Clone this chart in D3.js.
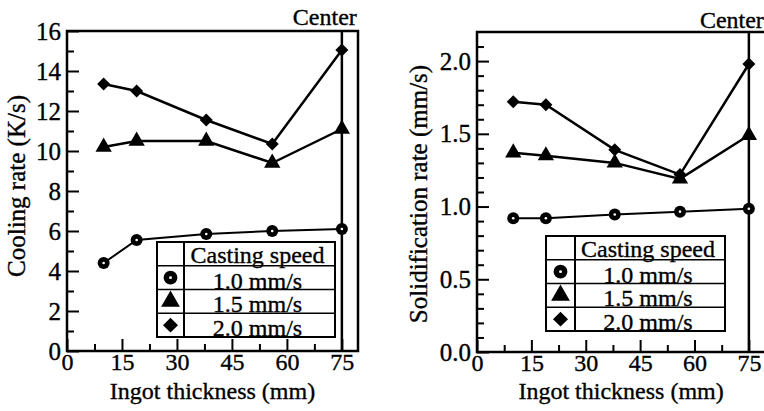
<!DOCTYPE html>
<html>
<head>
<meta charset="utf-8">
<script src="https://cdn.jsdelivr.net/npm/d3@7"></script>
<style>
  body { margin: 0; background: #fff; }
  svg text { font-family: "Liberation Serif", "Times New Roman", serif; fill: #000; stroke: #000; stroke-width: 0.35px; }
</style>
</head>
<body>
<svg id="chart" width="764" height="411"></svg>
<script>
// ingot thickness positions (mm)
const thickness = [10, 19, 38, 56, 75];

// cooling rate (K/s) per casting speed
const coolRate10 = [4.4, 5.55, 5.85, 6.0, 6.1];
const coolRate15 = [10.2, 10.5, 10.5, 9.4, 11.1];
const coolRate20 = [13.35, 13.0, 11.55, 10.35, 15.05];

// solidification rate (mm/s) per casting speed
const solidRate10 = [0.92, 0.92, 0.945, 0.965, 0.985];
const solidRate15 = [1.37, 1.35, 1.30, 1.19, 1.49];
const solidRate20 = [1.72, 1.70, 1.39, 1.22, 1.98];

const speedLabels = ["1.0 mm/s", "1.5 mm/s", "2.0 mm/s"];
const markerTypes = ["circle", "triangle", "diamond"];
const legendTitle = "Casting speed";
const centerLabel = "Center";
const xTicks = [0, 15, 30, 45, 60, 75];
const xMinorTicks = [7.5, 22.5, 37.5, 52.5, 67.5];

const svg = d3.select("#chart");

function drawMarker(g, type, cx, cy, big) {
  const k = big ? 1.15 : 1;
  if (type === "circle") {
    g.append("circle").attr("cx", cx).attr("cy", cy).attr("r", 6 * k).attr("fill", "#000");
    g.append("circle").attr("cx", cx).attr("cy", cy).attr("r", 1.3 * k).attr("fill", "#fff");
  } else if (type === "triangle") {
    g.append("path")
      .attr("d", d3.symbol(d3.symbolTriangle, 115 * k * k)())
      .attr("transform", `translate(${cx},${cy})`)
      .attr("fill", "#000");
  } else {
    g.append("path")
      .attr("d", d3.symbol(d3.symbolSquare, 85 * k * k)())
      .attr("transform", `translate(${cx},${cy}) rotate(45)`)
      .attr("fill", "#000");
  }
}

function drawPanel(cfg) {
  const g = svg.append("g");
  const x = d3.scaleLinear().domain(cfg.xDomain).range(cfg.xRange);
  const y = d3.scaleLinear().domain(cfg.yDomain).range(cfg.yRange);
  const [x0, x1] = cfg.xRange;
  const [yb, yt] = cfg.yRange;

  // x axis ticks (pointing inward)
  g.append("g")
    .attr("transform", `translate(0,${yb})`)
    .call(d3.axisBottom(x).tickValues(xTicks).tickSize(-12).tickPadding(2).tickFormat(d3.format("d")))
    .call(a => a.select(".domain").remove())
    .call(a => a.selectAll("line").attr("stroke-width", 2))
    .call(a => a.selectAll("text").attr("font-size", 24));
  g.append("g")
    .attr("transform", `translate(0,${yb})`)
    .call(d3.axisBottom(x).tickValues(xMinorTicks).tickSize(-7).tickFormat(""))
    .call(a => a.select(".domain").remove())
    .call(a => a.selectAll("line").attr("stroke-width", 2));

  // y axis ticks
  g.append("g")
    .attr("transform", `translate(${x0},0)`)
    .call(d3.axisLeft(y).tickValues(cfg.yTicks).tickSize(-12).tickPadding(6).tickFormat(cfg.yFormat))
    .call(a => a.select(".domain").remove())
    .call(a => a.selectAll("line").attr("stroke-width", 2))
    .call(a => a.selectAll("text").attr("font-size", 25));
  g.append("g")
    .attr("transform", `translate(${x0},0)`)
    .call(d3.axisLeft(y).tickValues(cfg.yMinor).tickSize(-7).tickFormat(""))
    .call(a => a.select(".domain").remove())
    .call(a => a.selectAll("line").attr("stroke-width", 2));

  // frame
  g.append("rect")
    .attr("x", x0).attr("y", yt)
    .attr("width", x1 - x0).attr("height", yb - yt)
    .attr("fill", "none").attr("stroke", "#000").attr("stroke-width", 2.5);

  // center line
  g.append("line")
    .attr("x1", x(75)).attr("x2", x(75))
    .attr("y1", yt).attr("y2", yb)
    .attr("stroke", "#000").attr("stroke-width", 2.5);

  g.append("text")
    .attr("x", x(75) - 49).attr("y", cfg.centerY)
    .attr("font-size", 24)
    .text(centerLabel);

  // series
  const line = d3.line().x((d, i) => x(thickness[i])).y(d => y(d));
  cfg.series.forEach((vals, si) => {
    g.append("path")
      .datum(vals)
      .attr("d", line)
      .attr("fill", "none")
      .attr("stroke", "#000")
      .attr("stroke-width", si === 0 ? 2 : 2.5);
    vals.forEach((v, i) => drawMarker(g, markerTypes[si], x(thickness[i]), y(v), false));
  });

  // legend table
  const lg = cfg.legend;
  const rowH = (lg.y1 - lg.y0) / 4;
  const lt = g.append("g");
  lt.append("rect")
    .attr("x", lg.x0).attr("y", lg.y0)
    .attr("width", lg.x1 - lg.x0).attr("height", lg.y1 - lg.y0)
    .attr("fill", "#fff").attr("stroke", "#000").attr("stroke-width", 2);
  lt.append("line")
    .attr("x1", lg.xd).attr("x2", lg.xd).attr("y1", lg.y0).attr("y2", lg.y1)
    .attr("stroke", "#000").attr("stroke-width", 2);
  for (let r = 1; r < 4; r++) {
    lt.append("line")
      .attr("x1", lg.x0).attr("x2", lg.x1)
      .attr("y1", lg.y0 + r * rowH).attr("y2", lg.y0 + r * rowH)
      .attr("stroke", "#000").attr("stroke-width", 1.5);
  }
  const tx = (lg.xd + lg.x1) / 2 - 2;
  lt.append("text")
    .attr("x", tx).attr("y", lg.y0 + rowH - 3)
    .attr("text-anchor", "middle").attr("font-size", 24)
    .text(legendTitle);
  speedLabels.forEach((s, i) => {
    const rb = lg.y0 + (i + 2) * rowH;
    drawMarker(lt, markerTypes[i], (lg.x0 + lg.xd) / 2, rb - rowH / 2, true);
    lt.append("text")
      .attr("x", tx).attr("y", rb - 1)
      .attr("text-anchor", "middle").attr("font-size", 24)
      .text(s);
  });

  // axis titles
  g.append("text")
    .attr("x", (x0 + x(Math.min(79.5, cfg.xDomain[1]))) / 2)
    .attr("y", 399)
    .attr("text-anchor", "middle").attr("font-size", 24)
    .text("Ingot thickness (mm)");
  g.append("text")
    .attr("transform", `translate(${cfg.yTitleX},${cfg.yTitleY}) rotate(-90)`)
    .attr("text-anchor", "middle").attr("font-size", 25)
    .text(cfg.yTitle);
}

drawPanel({
  xDomain: [0, 79.4], xRange: [67, 358],
  yDomain: [0, 16], yRange: [351, 31],
  yTicks: d3.range(0, 17, 2), yMinor: d3.range(1, 16, 2),
  yFormat: d3.format("d"),
  series: [coolRate10, coolRate15, coolRate20],
  centerY: 25,
  legend: { x0: 157, x1: 335, xd: 184, y0: 242, y1: 337 },
  yTitle: "Cooling rate (K/s)", yTitleX: 25, yTitleY: 186
});

drawPanel({
  xDomain: [0, 80], xRange: [477, 767],
  yDomain: [0, 2.2], yRange: [352, 32],
  yTicks: [0, 0.5, 1.0, 1.5, 2.0],
  yMinor: [0.1, 0.2, 0.3, 0.4, 0.6, 0.7, 0.8, 0.9, 1.1, 1.2, 1.3, 1.4, 1.6, 1.7, 1.8, 1.9, 2.1],
  yFormat: d3.format(".1f"),
  series: [solidRate10, solidRate15, solidRate20],
  centerY: 28,
  legend: { x0: 546, x1: 725, xd: 575, y0: 236, y1: 331 },
  yTitle: "Solidification rate (mm/s)", yTitleX: 427, yTitleY: 194
});
</script>
</body>
</html>
